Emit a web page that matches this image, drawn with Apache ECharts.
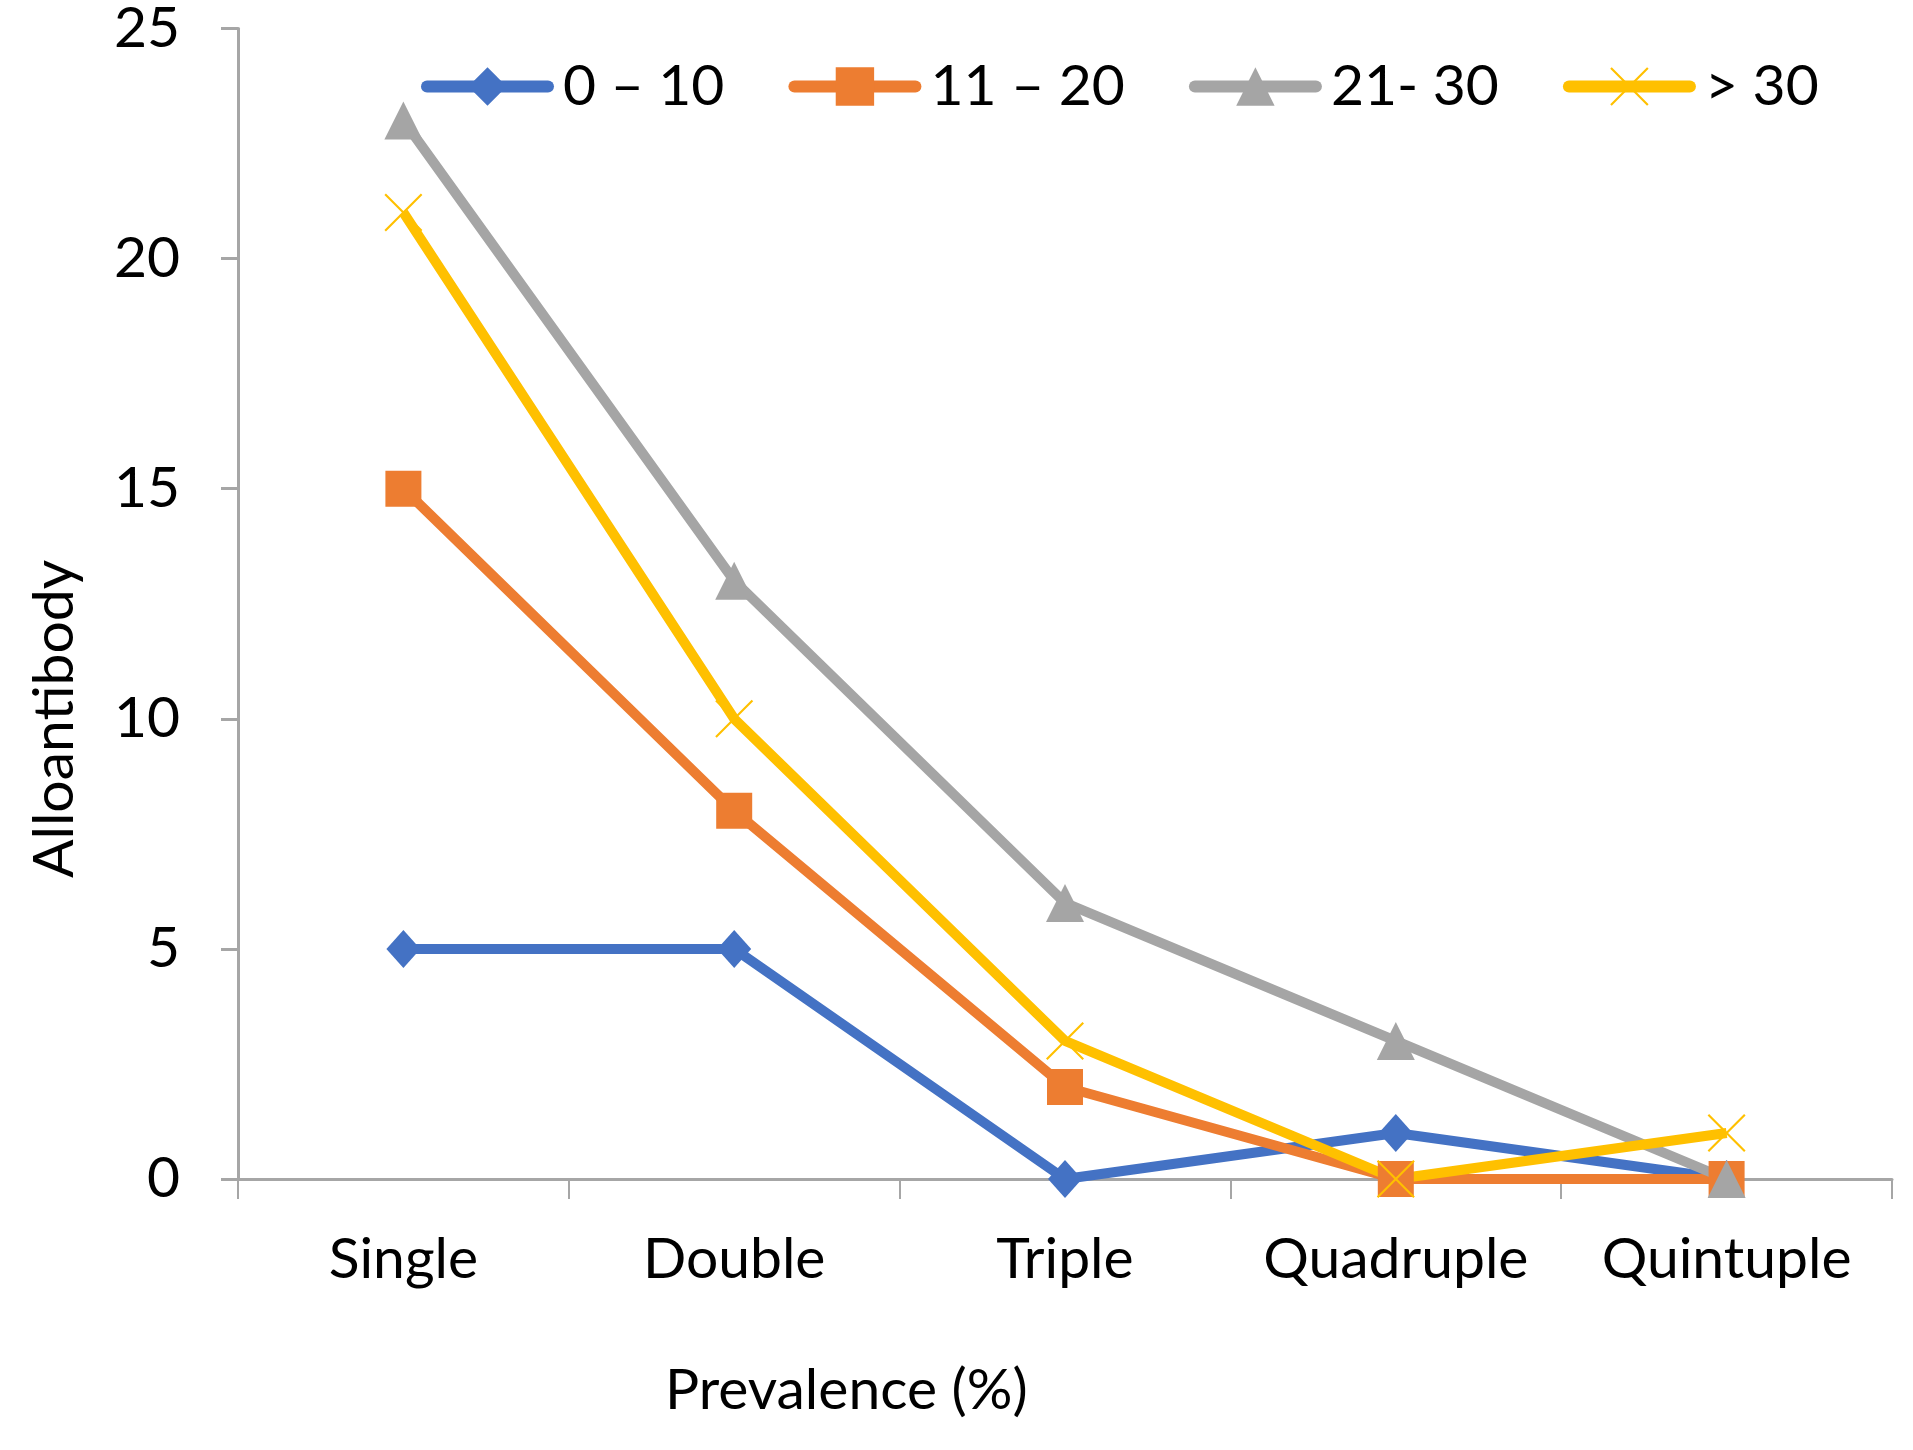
<!DOCTYPE html>
<html>
<head>
<meta charset="utf-8">
<script src="https://cdn.jsdelivr.net/npm/echarts@6/dist/echarts.min.js"></script>
<style>html,body{margin:0;padding:0;background:#fff}#c{width:1913px;height:1450px}</style>
</head>
<body>
<div id="c"></div>
<script>
const categories = ['Single', 'Double', 'Triple', 'Quadruple', 'Quintuple'];
const seriesNames = ['0 – 10', '11 – 20', '21- 30', '> 30'];
const s0to10 = [5, 5, 0, 1, 0];
const s11to20 = [15, 8, 2, 0, 0];
const s21to30 = [23, 13, 6, 3, 0];
const sOver30 = [21, 10, 3, 0, 1];
const yTicks = { min: 0, max: 25, interval: 5 };

const FONT = 'Lato';
const FS = 57;
const xPath = 'path://M0,4L4,0L50,46L96,0L100,4L54,50L100,96L96,100L50,54L4,100L0,96L46,50Z';

const chart = echarts.init(document.getElementById('c'));
function mk(name, data, color, symbol, size) {
  return {
    name, type: 'line', data, symbol, symbolSize: size,
    lineStyle: { color, width: 10 },
    itemStyle: { color },
    emphasis: { disabled: true }
  };
}
chart.setOption({
  animation: false,
  textStyle: { fontFamily: FONT },
  grid: { left: 238, right: 21, top: 27, bottom: 271 },
  legend: {
    left: 416, top: 53,
    itemWidth: 121, itemHeight: 48, itemGap: 64,
    textStyle: { fontFamily: FONT, fontSize: FS, color: '#000', padding: [0, 0, 0, 10] },
    lineStyle: { width: 12, cap: 'round' },
    data: seriesNames
  },
  xAxis: {
    type: 'category', data: categories, boundaryGap: true,
    axisLine: { lineStyle: { color: '#A6A6A6', width: 3 } },
    axisTick: { show: true, length: 20, lineStyle: { color: '#A6A6A6', width: 2 } },
    axisLabel: { interval: 0, fontFamily: FONT, fontSize: FS, color: '#000', margin: 52 },
    splitLine: { show: false }
  },
  yAxis: {
    type: 'value', min: yTicks.min, max: yTicks.max, interval: yTicks.interval,
    axisLine: { show: true, lineStyle: { color: '#A6A6A6', width: 3 } },
    axisTick: { show: true, length: 17, lineStyle: { color: '#A6A6A6', width: 3 } },
    axisLabel: { fontFamily: FONT, fontSize: FS, color: '#000', margin: 58 },
    splitLine: { show: false }
  },
  graphic: [
    { type: 'text', left: 665, top: 1362, style: { text: 'Prevalence (%)', font: FS + 'px ' + FONT, fill: '#000' } },
    { type: 'text', x: 55, y: 719, rotation: Math.PI / 2, originX: 0, originY: 0,
      style: { text: 'Alloantibody', font: FS + 'px ' + FONT, fill: '#000', align: 'center', verticalAlign: 'middle' } }
  ],
  series: [
    mk(seriesNames[0], s0to10, '#4472C4', 'diamond', [34, 38]),
    mk(seriesNames[1], s11to20, '#ED7D31', 'rect', 36),
    mk(seriesNames[2], s21to30, '#A5A5A5', 'triangle', 38),
    mk(seriesNames[3], sOver30, '#FFC000', xPath, 38)
  ]
});
</script>
</body>
</html>
